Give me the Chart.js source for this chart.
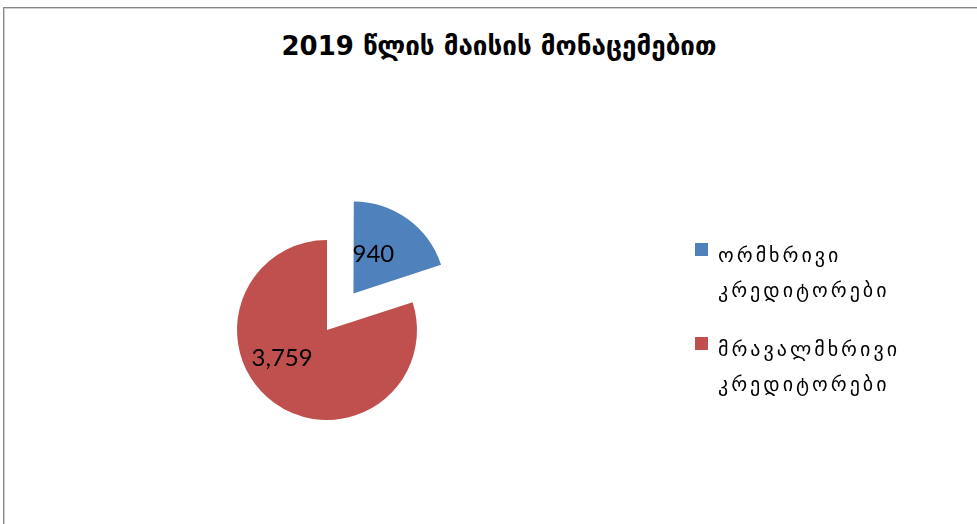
<!DOCTYPE html>
<html>
<head>
<meta charset="utf-8">
<script src="https://cdn.jsdelivr.net/npm/chart.js@4.4.0/dist/chart.umd.min.js"></script>
<style>
    html, body { margin: 0; padding: 0; background: #fff; }
    #wrap { position: relative; width: 977px; height: 524px; overflow: hidden; }
    #frame {
        position: absolute; left: 3px; top: 7px; right: -5px; bottom: -5px;
        border-top: 1px solid #868686; border-left: 1px solid #868686;
        box-shadow: inset 1px 1px 0 #d0d0d0;
    }
    #title {
        position: absolute; left: 0; width: 998px; top: 31px;
        text-align: center; font-family: 'DejaVu Sans', sans-serif;
        font-weight: bold; font-size: 26px; color: #000;
    }
    #legend { position: absolute; left: 695px; top: 238px; font-family: 'DejaVu Sans', sans-serif; }
    .item { position: relative; padding-left: 23px; margin-bottom: 24px; }
    .swatch { position: absolute; left: 0; top: 5px; width: 13px; height: 13px; }
    .txt { font-size: 20px; line-height: 35px; letter-spacing: 3px; color: #000; }
    canvas { position: absolute; left: 0; top: 0; }
</style>
</head>
<body>
<div id="wrap">
    <div id="frame"></div>
    <div id="title"></div>
    <canvas id="chart" width="977" height="524"></canvas>
    <div id="legend"></div>
</div>
<script>
const chartTitle = '2019 წლის მაისის მონაცემებით';
const categories = ['ორმხრივი კრედიტორები', 'მრავალმხრივი კრედიტორები'];
const legendLines = [['ორმხრივი', 'კრედიტორები'], ['მრავალმხრივი', 'კრედიტორები']];
const values = [940, 3759];
const colors = ['#4F81BD', '#C0504D'];
// chart.js moves an arc by offset/4, so 180 pulls the slice out ~45px
const explode = [180, 0];
// label placement inside each slice: turn from the bisector (rad) and radius share
const labelTurn = [-0.16, 0.38];
const labelDist = [0.49, 0.59];

document.getElementById('title').textContent = chartTitle;

// legend built by hand so each label can wrap onto two lines
const legend = document.getElementById('legend');
categories.forEach((name, i) => {
    const item = document.createElement('div');
    item.className = 'item';
    const sw = document.createElement('div');
    sw.className = 'swatch';
    sw.style.background = colors[i];
    item.appendChild(sw);
    legendLines[i].forEach(line => {
        const t = document.createElement('div');
        t.className = 'txt';
        t.textContent = line;
        item.appendChild(t);
    });
    legend.appendChild(item);
});

// value labels drawn inside each slice
const sliceLabels = {
    id: 'sliceLabels',
    afterDatasetsDraw(chart) {
        const ctx = chart.ctx;
        const meta = chart.getDatasetMeta(0);
        ctx.save();
        ctx.font = '24px Lato, sans-serif';
        ctx.fillStyle = '#000';
        ctx.textAlign = 'center';
        ctx.textBaseline = 'middle';
        meta.data.forEach((arc, i) => {
            const p = arc.getProps(['startAngle', 'endAngle', 'outerRadius', 'x', 'y'], true);
            const mid = (p.startAngle + p.endAngle) / 2;
            const off = (arc.options.offset || 0) / 4;
            const cx = p.x + Math.cos(mid) * off;
            const cy = p.y + Math.sin(mid) * off;
            const a = mid + labelTurn[i];
            const r = p.outerRadius * labelDist[i];
            ctx.fillText(values[i].toLocaleString('en-US'), cx + Math.cos(a) * r, cy + Math.sin(a) * r);
        });
        ctx.restore();
    }
};

new Chart(document.getElementById('chart'), {
    type: 'pie',
    data: {
        labels: categories,
        datasets: [{
            data: values,
            backgroundColor: colors,
            borderWidth: 0,
            offset: explode
        }]
    },
    options: {
        responsive: false,
        animation: false,
        events: [],
        radius: 90,
        layout: { padding: { left: 150, right: 473, top: 150, bottom: 14 } },
        plugins: {
            legend: { display: false },
            tooltip: { enabled: false },
            title: { display: false }
        }
    },
    plugins: [sliceLabels]
});
</script>
</body>
</html>
